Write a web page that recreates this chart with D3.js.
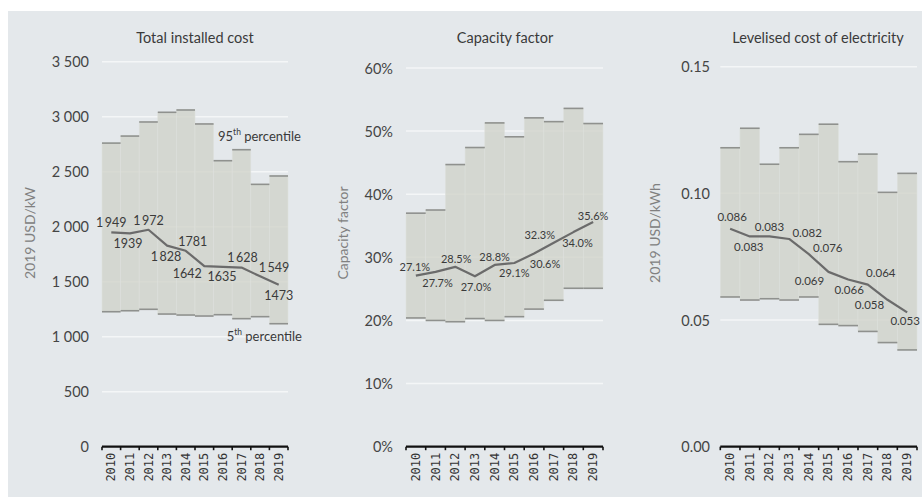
<!DOCTYPE html>
<html>
<head>
<meta charset="utf-8">
<script src="https://cdn.jsdelivr.net/npm/d3@7"></script>
<style>
  html, body { margin: 0; padding: 0; background: #ffffff; }
  svg { display: block; }
</style>
</head>
<body>
<svg id="chart" width="922" height="497"></svg>
<script>
// ---------------- DATA ----------------
const years = ["2010","2011","2012","2013","2014","2015","2016","2017","2018","2019"];

// Total installed cost (2019 USD/kW)
const costP95 = [2760, 2824, 2952, 3040, 3061, 2934, 2600, 2700, 2385, 2461];
const costP5  = [1227, 1236, 1249, 1206, 1197, 1188, 1200, 1164, 1182, 1118];
const costAvg = [1949, 1939, 1972, 1828, 1781, 1642, 1635, 1628, 1549, 1473];
const costTicks = [0, 500, 1000, 1500, 2000, 2500, 3000, 3500];
const costTickLabels = ["0", "500", "1\u2005000", "1\u2005500", "2\u2005000", "2\u2005500", "3\u2005000", "3\u2005500"];
const costLabels = ["1\u2009949","1939","1\u2009972","1\u2009828","1781","1642","1635","1\u2009628","1\u2009549","1473"];

// Capacity factor (%)
const cfP95 = [37.0, 37.5, 44.7, 47.4, 51.3, 49.1, 52.1, 51.5, 53.6, 51.2];
const cfP5  = [20.4, 20.0, 19.8, 20.3, 20.0, 20.6, 21.8, 23.2, 25.1, 25.1];
const cfAvg = [27.1, 27.7, 28.5, 27.0, 28.8, 29.1, 30.6, 32.3, 34.0, 35.6];
const cfTicks = [0, 10, 20, 30, 40, 50, 60];
const cfTickLabels = ["0%", "10%", "20%", "30%", "40%", "50%", "60%"];
const cfLabels = ["27.1%","27.7%","28.5%","27.0%","28.8%","29.1%","30.6%","32.3%","34.0%","35.6%"];

// LCOE (2019 USD/kWh)
const lcoeP95 = [0.118, 0.1257, 0.1115, 0.118, 0.1233, 0.1273, 0.1125, 0.1155, 0.1004, 0.1079];
const lcoeP5  = [0.0591, 0.0579, 0.0584, 0.0579, 0.0591, 0.0483, 0.0478, 0.0455, 0.0411, 0.0382];
const lcoeAvg = [0.086, 0.083, 0.083, 0.082, 0.076, 0.069, 0.066, 0.064, 0.058, 0.053];
const lcoeTicks = [0, 0.05, 0.10, 0.15];
const lcoeTickLabels = ["0.00", "0.05", "0.10", "0.15"];
const lcoeLabels = ["0.086","0.083","0.083","0.082","0.076","0.069","0.066","0.064","0.058","0.053"];

// ---------------- LAYOUT ----------------
const svg = d3.select("#chart");
const FONT = "Lato, 'Open Sans', sans-serif";
const yBottom = 446.7;

svg.append("rect").attr("x", 8).attr("y", 11).attr("width", 914).attr("height", 486).attr("fill", "#e4e8eb");

const panels = [
  { title: "Total installed cost", titleX: 195, ylabel: "2019 USD/kW", ylabelX: 29,
    x0: 102, x1: 288, yTop: 61.7, domain: [0, 3500], tickLabelX: 89,
    p95: costP95, p5: costP5, avg: costAvg, ticks: costTicks, tickLabels: costTickLabels,
    labels: costLabels, labelSize: 12.5,
    offsets: [[0,-10],[-2,10],[0,-9],[-1,10.5],[7,-9],[-17,7],[-1,10],[1,-10],[14,-9],[0,11]] },
  { title: "Capacity factor", titleX: 505, ylabel: "Capacity factor", ylabelX: 342,
    x0: 406, x1: 603, yTop: 68, domain: [0, 60], tickLabelX: 393,
    p95: cfP95, p5: cfP5, avg: cfAvg, ticks: cfTicks, tickLabels: cfTickLabels,
    labels: cfLabels, labelSize: 11,
    offsets: [[-1,-9],[2,11],[1,-8],[1,10],[0,-8],[0,9],[11,10],[-14,-8],[4,10],[0,-7]] },
  { title: "Levelised cost of electricity", titleX: 818, ylabel: "2019 USD/kWh", ylabelX: 654,
    x0: 720.3, x1: 917, yTop: 66.7, domain: [0, 0.15], tickLabelX: 710,
    p95: lcoeP95, p5: lcoeP5, avg: lcoeAvg, ticks: lcoeTicks, tickLabels: lcoeTickLabels,
    labels: lcoeLabels, labelSize: 11.5,
    offsets: [[2,-12],[-1,10],[0,-10],[18,-6],[19,-7],[-19,9],[1,10],[13,-12],[-18,5],[-2,8]] }
];

panels.forEach(p => {
  const g = svg.append("g");
  const x = d3.scaleBand().domain(years).range([p.x0, p.x1]).paddingInner(0).paddingOuter(0);
  const y = d3.scaleLinear().domain(p.domain).range([yBottom, p.yTop]);

  // title
  g.append("text").attr("x", p.titleX).attr("y", 37).attr("text-anchor", "middle")
    .attr("dominant-baseline", "central").attr("font-family", FONT).attr("font-size", 14.5)
    .attr("fill", "#3a3a3a").text(p.title);

  // y label
  g.append("text").attr("transform", `translate(${p.ylabelX},233) rotate(-90)`)
    .attr("text-anchor", "middle").attr("dominant-baseline", "central")
    .attr("font-family", FONT).attr("font-size", 14).attr("fill", "#808080").text(p.ylabel);

  // gridlines
  g.selectAll(".grid").data(p.ticks.filter(t => t > 0)).enter().append("line")
    .attr("x1", p.x0).attr("x2", p.x1).attr("y1", d => y(d)).attr("y2", d => y(d))
    .attr("stroke", "#f4f6f7").attr("stroke-width", 1.5);

  // tick labels
  g.selectAll(".tl").data(p.ticks).enter().append("text")
    .attr("x", p.tickLabelX).attr("y", d => y(d)).attr("text-anchor", "end")
    .attr("dominant-baseline", "central").attr("font-family", FONT).attr("font-size", 14.5)
    .attr("fill", "#454545").text((d, i) => p.tickLabels[i]);

  // range bars
  const bars = years.map((yr, i) => ({ yr, hi: p.p95[i], lo: p.p5[i] }));
  g.selectAll(".bar").data(bars).enter().append("rect")
    .attr("x", d => x(d.yr)).attr("width", x.bandwidth())
    .attr("y", d => y(d.hi)).attr("height", d => y(d.lo) - y(d.hi))
    .attr("fill", "#cfd2c9").attr("fill-opacity", 0.78)
    .attr("stroke", "#dde0dc").attr("stroke-width", 0.6);
  g.selectAll(".top").data(bars).enter().append("line")
    .attr("x1", d => x(d.yr)).attr("x2", d => x(d.yr) + x.bandwidth())
    .attr("y1", d => y(d.hi)).attr("y2", d => y(d.hi))
    .attr("stroke", "#8f918e").attr("stroke-width", 1.6);
  g.selectAll(".bot").data(bars).enter().append("line")
    .attr("x1", d => x(d.yr)).attr("x2", d => x(d.yr) + x.bandwidth())
    .attr("y1", d => y(d.lo)).attr("y2", d => y(d.lo))
    .attr("stroke", "#8f918e").attr("stroke-width", 1.6);

  // average line
  const pts = years.map((yr, i) => [x(yr) + x.bandwidth() / 2, y(p.avg[i])]);
  g.append("path").attr("d", d3.line()(pts)).attr("fill", "none")
    .attr("stroke", "#6b6b6b").attr("stroke-width", 2.2).attr("stroke-linejoin", "round");

  // value labels
  g.selectAll(".vl").data(pts).enter().append("text")
    .attr("x", (d, i) => d[0] + p.offsets[i][0]).attr("y", (d, i) => d[1] + p.offsets[i][1])
    .attr("text-anchor", "middle").attr("dominant-baseline", "central")
    .attr("font-family", FONT).attr("font-size", p.labelSize).attr("fill", "#3a3a3a")
    .text((d, i) => p.labels[i]);

  // x axis
  const axis = g.append("g").attr("transform", `translate(0,${yBottom})`)
    .call(d3.axisBottom(x).tickSize(0).tickFormat(""));
  axis.select(".domain").remove();
  g.append("line").attr("x1", p.x0).attr("x2", p.x1).attr("y1", yBottom).attr("y2", yBottom)
    .attr("stroke", "#111").attr("stroke-width", 2.2);
  const bounds = years.map(yr => x(yr)).concat([p.x1]);
  g.selectAll(".xt").data(bounds).enter().append("line")
    .attr("x1", d => d).attr("x2", d => d).attr("y1", yBottom).attr("y2", yBottom + 3.5)
    .attr("stroke", "#111").attr("stroke-width", 1.6);
  g.selectAll(".xl").data(years).enter().append("text")
    .attr("transform", d => `translate(${x(d) + x.bandwidth() / 2},${yBottom + 6}) rotate(-90)`)
    .attr("text-anchor", "end").attr("dominant-baseline", "central")
    .attr("font-family", "'DejaVu Sans Mono', monospace").attr("font-size", 12)
    .attr("fill", "#333").text(d => d);
});

// percentile annotations (first panel)
const ann = svg.append("g").attr("font-family", FONT).attr("fill", "#3a3a3a").attr("font-size", 13);
const t95 = ann.append("text").attr("x", 218).attr("y", 136).attr("dominant-baseline", "central");
t95.append("tspan").text("95");
t95.append("tspan").attr("font-size", 8.5).attr("dy", -4).text("th");
t95.append("tspan").attr("dy", 4).text(" percentile");
const t5 = ann.append("text").attr("x", 302).attr("y", 336).attr("text-anchor", "end").attr("dominant-baseline", "central");
t5.append("tspan").text("5");
t5.append("tspan").attr("font-size", 8.5).attr("dy", -4).text("th");
t5.append("tspan").attr("dy", 4).text(" percentile");
</script>
</body>
</html>
